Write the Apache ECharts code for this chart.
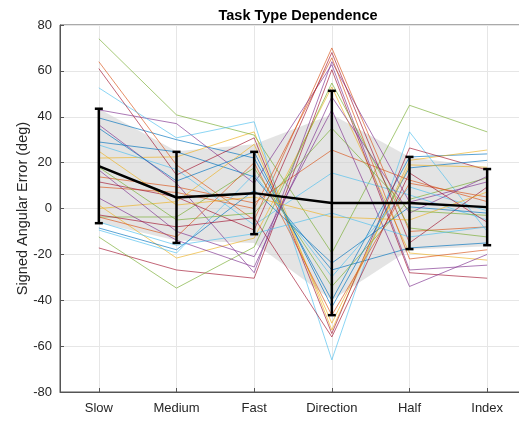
<!DOCTYPE html>
<html>
<head>
<meta charset="utf-8">
<script src="https://cdn.jsdelivr.net/npm/echarts@6/dist/echarts.min.js"></script>
<style>
  html, body { margin: 0; padding: 0; background: #fff; }
  #chart { width: 519px; height: 421px; }
</style>
</head>
<body>
<div id="chart"></div>
<script>
  // task types on the x axis
  const categories = ["Slow", "Medium", "Fast", "Direction", "Half", "Index"];

  // one value per subject (28 subjects) for each task type
  const slow      = [39.5, 64, 22, 43, 74, 52.6, 61, 29, 13.8, 1.5, 36.5, -3.7, 27.7, -17.2, 35, 9.4, 0, 16.8, -12.4, -9.4, 11.6, -8.5, -3.7, 25, 4.6, 18, -5.9, -2.8];
  const medium    = [30, 19, 22.5, 37, 40.8, 30.8, 14.6, 24.7, 9.4, -21.6, 11, -3.7, 17, -26.8, 12, 7, 3, -10, -34.7, -19.4, 5, -18, -12.4, 1.5, -13.8, -5, -16, -8];
  const fast      = [22, -5, 33.4, 11, 32, 37.8, 30.8, 13.8, 2.4, -12.9, -28, 17.7, -7.2, -30.4, 24.7, 0, 28, -21, -16.8, 15, -9.4, 8, 20, 5, -25.5, -2, -11, -4];
  const direction = [-40, 70, -53, 62.7, -19.4, -66, -54.5, -26.8, 25.5, 53, 64, -34, 15.5, 60.5, -43, 65.7, -50, 43, 54.7, -29.8, 68, -23.8, -46.5, -3.7, 48.7, 35, -2, -56];
  const half      = [22.5, -10, 21, -26.8, 45, 33.4, 26.4, -17.2, 12.4, -19.4, 2.8, 4, 5.9, -28, 17.7, -22, 19, -34, -8.5, 9.4, -15, 0.7, 11, -5, -2, -1, -12.4, 15.5];
  const indexF    = [23.8, -8, 25.5, -24.7, 33.4, -10, 16.8, -15, 3, -22.5, 11.6, 13.3, -5, -30.4, 21, -18, 18, -20, -12.4, -1, 9.4, -2, 5, 7.2, 14, -3, -8, -6];

  // group mean and error bar limits
  const meanVals = [18.5, 4.8, 6.7, 2.4, 2.4, 0.6];
  const errLow   = [-6.4, -15, -11.2, -46.5, -17.7, -16];
  const errHigh  = [43.5, 24.7, 24.7, 51.3, 22.5, 17.2];

  // grey shaded band
  const bandLow  = [-6.2, -14, -15, -40, -18, -16.5];
  const bandHigh = [43.5, 25, 28, 41, 22.5, 18];

  const matlabColors = ["#0072BD", "#D95319", "#EDB120", "#7E2F8E", "#77AC30", "#4DBEEE", "#A2142F"];

  const perTask = [slow, medium, fast, direction, half, indexF];
  const nSubjects = slow.length;

  const subjectSeries = [];
  for (let s = 0; s < nSubjects; s++) {
    subjectSeries.push({
      type: "line",
      data: perTask.map((arr, i) => [i + 1, arr[s]]),
      symbol: "none",
      lineStyle: { width: 1, color: matlabColors[s % 7], opacity: 0.65 },
      z: 3,
      silent: true,
    });
  }

  const chart = echarts.init(document.getElementById("chart"));
  const txt = "#262626";
  const font = "'Liberation Sans', Arial, sans-serif";

  const option = {
    animation: false,
    title: {
      text: "Task Type Dependence",
      left: 293,
      textAlign: "center",
      top: 3,
      textStyle: { fontFamily: font, fontSize: 14.5, fontWeight: "bold", color: "#000" },
    },
    grid: {
      left: 60,
      width: 466,
      top: 25,
      bottom: 29,
      outerBoundsMode: "none",
      containLabel: false,
      show: true,
      borderColor: "#555",
      borderWidth: 1,
    },
    xAxis: {
      type: "value",
      min: 0.5,
      max: 6.5,
      axisLine: { show: true, onZero: false, lineStyle: { color: "#555" } },
      axisTick: { show: true, inside: true, length: 4, lineStyle: { color: "#555" } },
      splitLine: { show: true, lineStyle: { color: "#e6e6e6" } },
      axisLabel: {
        fontFamily: font,
        fontSize: 13,
        color: txt,
        margin: 10,
        formatter: (v) => (Number.isInteger(v) && v >= 1 && v <= 6 ? categories[v - 1] : ""),
      },
    },
    yAxis: {
      type: "value",
      min: -80,
      max: 80,
      interval: 20,
      name: "Signed Angular Error (deg)",
      nameLocation: "middle",
      nameGap: 30,
      nameMoveOverlap: false,
      nameTextStyle: { fontFamily: font, fontSize: 14.5, color: txt },
      axisLine: { show: true, lineStyle: { color: "#555" } },
      axisTick: { show: true, inside: true, length: 4, lineStyle: { color: "#555" } },
      splitLine: { show: true, lineStyle: { color: "#e6e6e6" } },
      axisLabel: { fontFamily: font, fontSize: 13, color: txt, margin: 8 },
    },
    series: [
      {
        type: "custom",
        z: 1,
        silent: true,
        data: [[1]],
        renderItem: (params, api) => {
          const pts = [];
          bandHigh.forEach((v, i) => pts.push(api.coord([i + 1, v])));
          for (let i = bandLow.length - 1; i >= 0; i--) pts.push(api.coord([i + 1, bandLow[i]]));
          return { type: "polygon", shape: { points: pts }, style: { fill: "rgba(205,205,205,0.55)" } };
        },
      },
      ...subjectSeries,
      {
        type: "line",
        data: meanVals.map((v, i) => [i + 1, v]),
        symbol: "none",
        lineStyle: { width: 2.5, color: "#000" },
        z: 5,
      },
      {
        type: "custom",
        z: 6,
        data: meanVals.map((v, i) => [i + 1, errLow[i], errHigh[i]]),
        renderItem: (params, api) => {
          const x = api.value(0);
          const lo = api.coord([x, api.value(1)]);
          const hi = api.coord([x, api.value(2)]);
          const c = 4;
          const st = { stroke: "#000", lineWidth: 2.5 };
          return {
            type: "group",
            children: [
              { type: "line", shape: { x1: lo[0], y1: lo[1], x2: hi[0], y2: hi[1] }, style: st },
              { type: "line", shape: { x1: lo[0] - c, y1: lo[1], x2: lo[0] + c, y2: lo[1] }, style: st },
              { type: "line", shape: { x1: hi[0] - c, y1: hi[1], x2: hi[0] + c, y2: hi[1] }, style: st },
            ],
          };
        },
      },
    ],
  };
  chart.setOption(option);
</script>
</body>
</html>
